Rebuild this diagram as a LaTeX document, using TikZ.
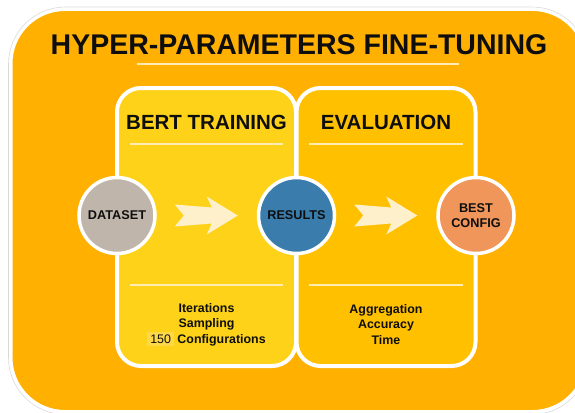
\documentclass[tikz,border=0pt]{standalone}
\usepackage{fontspec}
\setmainfont{Liberation Sans}
\usetikzlibrary{calc}

\definecolor{ink}{RGB}{14,14,14}
\definecolor{outerfill}{RGB}{255,176,0}
\definecolor{trainfill}{RGB}{254,210,24}
\definecolor{evalfill}{RGB}{255,192,0}
\definecolor{rulecol}{RGB}{255,236,178}
\definecolor{arrowfill}{RGB}{255,240,204}
\definecolor{datafill}{RGB}{191,181,171}
\definecolor{resfill}{RGB}{58,125,172}
\definecolor{bestfill}{RGB}{240,150,90}
\definecolor{hlfill}{RGB}{254,216,72}

\begin{document}
\begin{tikzpicture}[x=1pt,y=-1pt,
  panelbox/.style={draw=white, line width=4pt, rounded corners=24pt,
    minimum width=179pt, minimum height=278pt, inner sep=0pt},
  ring/.style={circle, draw=white, line width=3.5pt, minimum size=76pt,
    inner sep=0pt, align=center, text=ink,
    font=\bfseries\fontsize{12.7}{15}\selectfont},
  heading/.style={font=\bfseries\fontsize{20.5}{24}\selectfont, text=ink},
  thinrule/.style={draw=rulecol, line width=1.3pt},
  notes/.style={font=\bfseries\fontsize{12.4}{15.5}\selectfont, text=ink,
    align=center},
  blockarrow/.pic={
    \fill[arrowfill] (-32,-11) -- (5,-8) -- (0,-19) -- (31,0) -- (0,19)
      -- (5,8) -- (-32,11) -- (-23,0) -- cycle;
  },
]
\useasboundingbox (0,0) rectangle (575,412);

% outer frame, running past the right edge
\begin{scope}
  \clip (0,0) rectangle (575,412);
  \draw[black!15, line width=0.6pt, rounded corners=57pt]
    (8.5,7) rectangle (589,414.5);
  \draw[draw=white, line width=3pt, fill=outerfill, rounded corners=54pt]
    (11,9.5) rectangle (586.5,411.5);
\end{scope}

% title
\node[font=\bfseries\fontsize{28.5}{32}\selectfont, text=ink]
  (title) at (299,45) {HYPER-PARAMETERS FINE-TUNING};
\draw[thinrule] (137,64) -- (459,64);

% the two stage panels
\node[panelbox, fill=trainfill] (train) at (206.5,227) {};
\node[panelbox, fill=evalfill] (eval) at (386,227) {};

\node[heading] (trainhead) at (206.5,122) {BERT TRAINING};
\node[heading] (evalhead) at (386,122) {EVALUATION};

\draw[thinrule] (130,144) -- (283,144);
\draw[thinrule] (309,144) -- (463,144);
\draw[thinrule] (130,285) -- (283,285);
\draw[thinrule] (309,285) -- (463,285);

% stage circles
\node[ring, fill=datafill] (ds) at (117,215.5) {DATASET};
\node[ring, fill=resfill] (res) at (296.5,215.5) {RESULTS};
\node[ring, fill=bestfill] (best) at (476,215.5) {BEST\\CONFIG};

% block arrows between the circles
\pic at ($(ds)!0.5!(res)$) {blockarrow};
\pic at ($(res)!0.5!(best)$) {blockarrow};

% panel notes
\node[notes] (trainnotes) at (206.5,324.5)
  {Iterations\\Sampling\\{\setlength{\fboxsep}{3pt}\mdseries\smash{\colorbox{hlfill}{150}}} Configurations};
\node[notes] (evalnotes) at (386,324.5) {Aggregation\\Accuracy\\Time};
\end{tikzpicture}
\end{document}
